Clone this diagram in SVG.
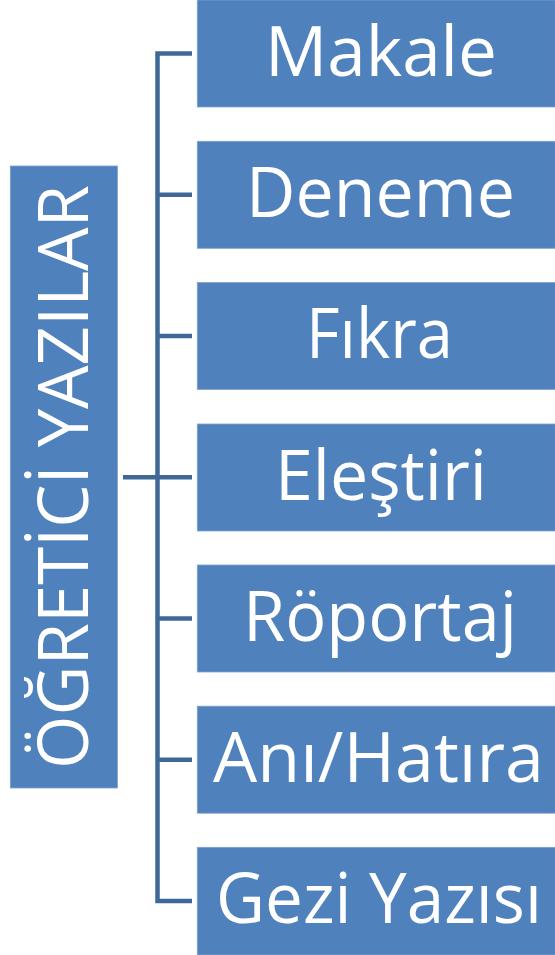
<svg xmlns="http://www.w3.org/2000/svg" width="555" height="955" viewBox="0 0 555 955">
<style>
.box{fill:#4f81bd;stroke:#7ea2cf;stroke-width:0.8}
.lbl{font-family:"Open Sans","Liberation Sans",sans-serif;font-size:70px;fill:#ffffff;text-anchor:middle}
.con{fill:none;stroke:#3e6898;stroke-width:4.5}
</style>
<rect width="555" height="955" fill="#ffffff"/>
<g id="connectors">
<path class="con" d="M192 53.5 H157.5 V901 H192"/>
<path class="con" d="M157.5 194.8 H192 M157.5 336 H192 M123 477.3 H192 M157.5 618.5 H192 M157.5 759.7 H192"/>
</g>
<g id="node-root">
<rect class="box" x="10.3" y="166" width="107.2" height="622"/>
<text class="lbl" transform="translate(88,477) rotate(-90)" x="0" y="0" textLength="584" lengthAdjust="spacingAndGlyphs">ÖĞRETİCİ YAZILAR</text>
</g>
<g id="node-makale">
<rect class="box" x="197.3" y="0" width="358" height="107"/>
<text class="lbl" x="381" y="76" textLength="232" lengthAdjust="spacingAndGlyphs">Makale</text>
</g>
<g id="node-deneme">
<rect class="box" x="197.3" y="141.3" width="358" height="107"/>
<text class="lbl" x="380.5" y="217" textLength="269" lengthAdjust="spacingAndGlyphs">Deneme</text>
</g>
<g id="node-fikra">
<rect class="box" x="197.3" y="282.5" width="358" height="107"/>
<text class="lbl" x="379.5" y="358" textLength="147" lengthAdjust="spacingAndGlyphs">Fıkra</text>
</g>
<g id="node-elestiri">
<rect class="box" x="197.3" y="424" width="358" height="107"/>
<text class="lbl" x="381" y="499.5" textLength="212" lengthAdjust="spacingAndGlyphs">Eleştiri</text>
</g>
<g id="node-roportaj">
<rect class="box" x="197.3" y="565" width="358" height="107"/>
<text class="lbl" x="380" y="640.5" textLength="274" lengthAdjust="spacingAndGlyphs">Röportaj</text>
</g>
<g id="node-ani">
<rect class="box" x="197.3" y="706.2" width="358" height="107"/>
<text class="lbl" x="378.5" y="781.7" textLength="331" lengthAdjust="spacingAndGlyphs">Anı/Hatıra</text>
</g>
<g id="node-gezi">
<rect class="box" x="197.3" y="847.3" width="358" height="107.7"/>
<text class="lbl" x="379" y="922.7" textLength="326" lengthAdjust="spacingAndGlyphs">Gezi Yazısı</text>
</g>
</svg>
